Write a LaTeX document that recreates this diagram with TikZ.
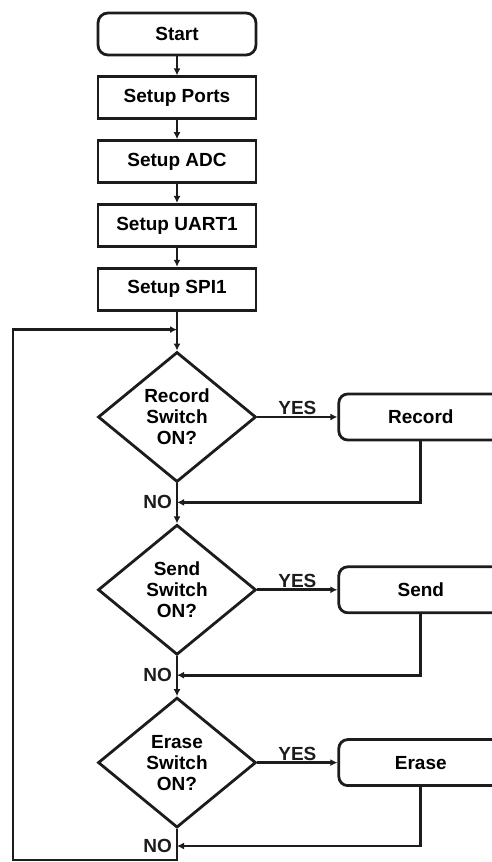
\documentclass[tikz,border=0pt]{standalone}
\usepackage{fontspec}
\setmainfont{Liberation Sans}
\usepackage{tikz}
\usetikzlibrary{arrows.meta,positioning,shapes.geometric}
\definecolor{InkBlack}{HTML}{1C1C1C}
\tikzset{
  box/.style={draw=InkBlack,line width=2.8pt,align=center,
              minimum width=158pt,minimum height=42pt,inner sep=3pt,
              font=\bfseries\fontsize{19}{21}\selectfont},
  startbox/.style={box,rounded corners=10pt},
  actbox/.style={box,rounded corners=9pt,minimum width=164pt,minimum height=46pt},
  decision/.style={draw=InkBlack,line width=2.8pt,diamond,minimum width=158pt,
              minimum height=130pt,inner sep=0pt,align=center,
              font=\bfseries\fontsize{19}{21}\selectfont},
  flow/.style={-{Latex[length=7pt,width=7pt]},line width=2.8pt,draw=InkBlack},
  note/.style={font=\bfseries\fontsize{19}{20}\selectfont,inner sep=1pt,text=InkBlack}
}
\begin{document}
\begin{tikzpicture}[x=1pt,y=1pt,node distance=19pt and 80pt]
  \useasboundingbox (0,0) rectangle (492,862);
  \node[startbox] (start) at (177,828) {Start};
  \node[box,below=of start] (ports) {Setup Ports};
  \node[box,below=of ports] (adc) {Setup ADC};
  \node[box,below=of adc] (uart) {Setup UART1};
  \node[box,below=of uart] (spi) {Setup SPI1};
  \coordinate[below=18pt of spi] (join);

  \node[decision,below=21pt of join] (rec) {Record\\Switch\\ON?};
  \node[actbox,right=of rec] (recact) {Record};
  \coordinate[below=19pt of rec] (recno);
  \node[decision,below=21pt of recno] (snd) {Send\\Switch\\ON?};
  \node[actbox,right=of snd] (sndact) {Send};
  \coordinate[below=19pt of snd] (sndno);
  \node[decision,below=21pt of sndno] (ers) {Erase\\Switch\\ON?};
  \node[actbox,right=of ers] (ersact) {Erase};
  \coordinate[below=17pt of ers] (ersno);
  \coordinate[below=14pt of ersno] (loopbot);
  \coordinate[left=164pt of loopbot] (loopturn);

  \node[note,left=4pt of recno] (recnolabel) {NO};
  \node[note,left=4pt of sndno] (sndnolabel) {NO};
  \node[note,left=4pt of ersno] (ersnolabel) {NO};

  \draw[flow] (start) -- (ports);
  \draw[flow] (ports) -- (adc);
  \draw[flow] (adc) -- (uart);
  \draw[flow] (uart) -- (spi);
  \draw[flow] (spi) -- (rec);
  \draw[flow] (rec) -- node[note,above]{YES} (recact);
  \draw[flow] (recact.south) |- (recno);
  \draw[flow] (rec) -- (snd);
  \draw[flow] (snd) -- node[note,above]{YES} (sndact);
  \draw[flow] (sndact.south) |- (sndno);
  \draw[flow] (snd) -- (ers);
  \draw[flow] (ers) -- node[note,above]{YES} (ersact);
  \draw[flow] (ersact.south) |- (ersno);
  \draw[flow] (ers) -- (loopbot) -- (loopturn) |- (join);
\end{tikzpicture}
\end{document}
